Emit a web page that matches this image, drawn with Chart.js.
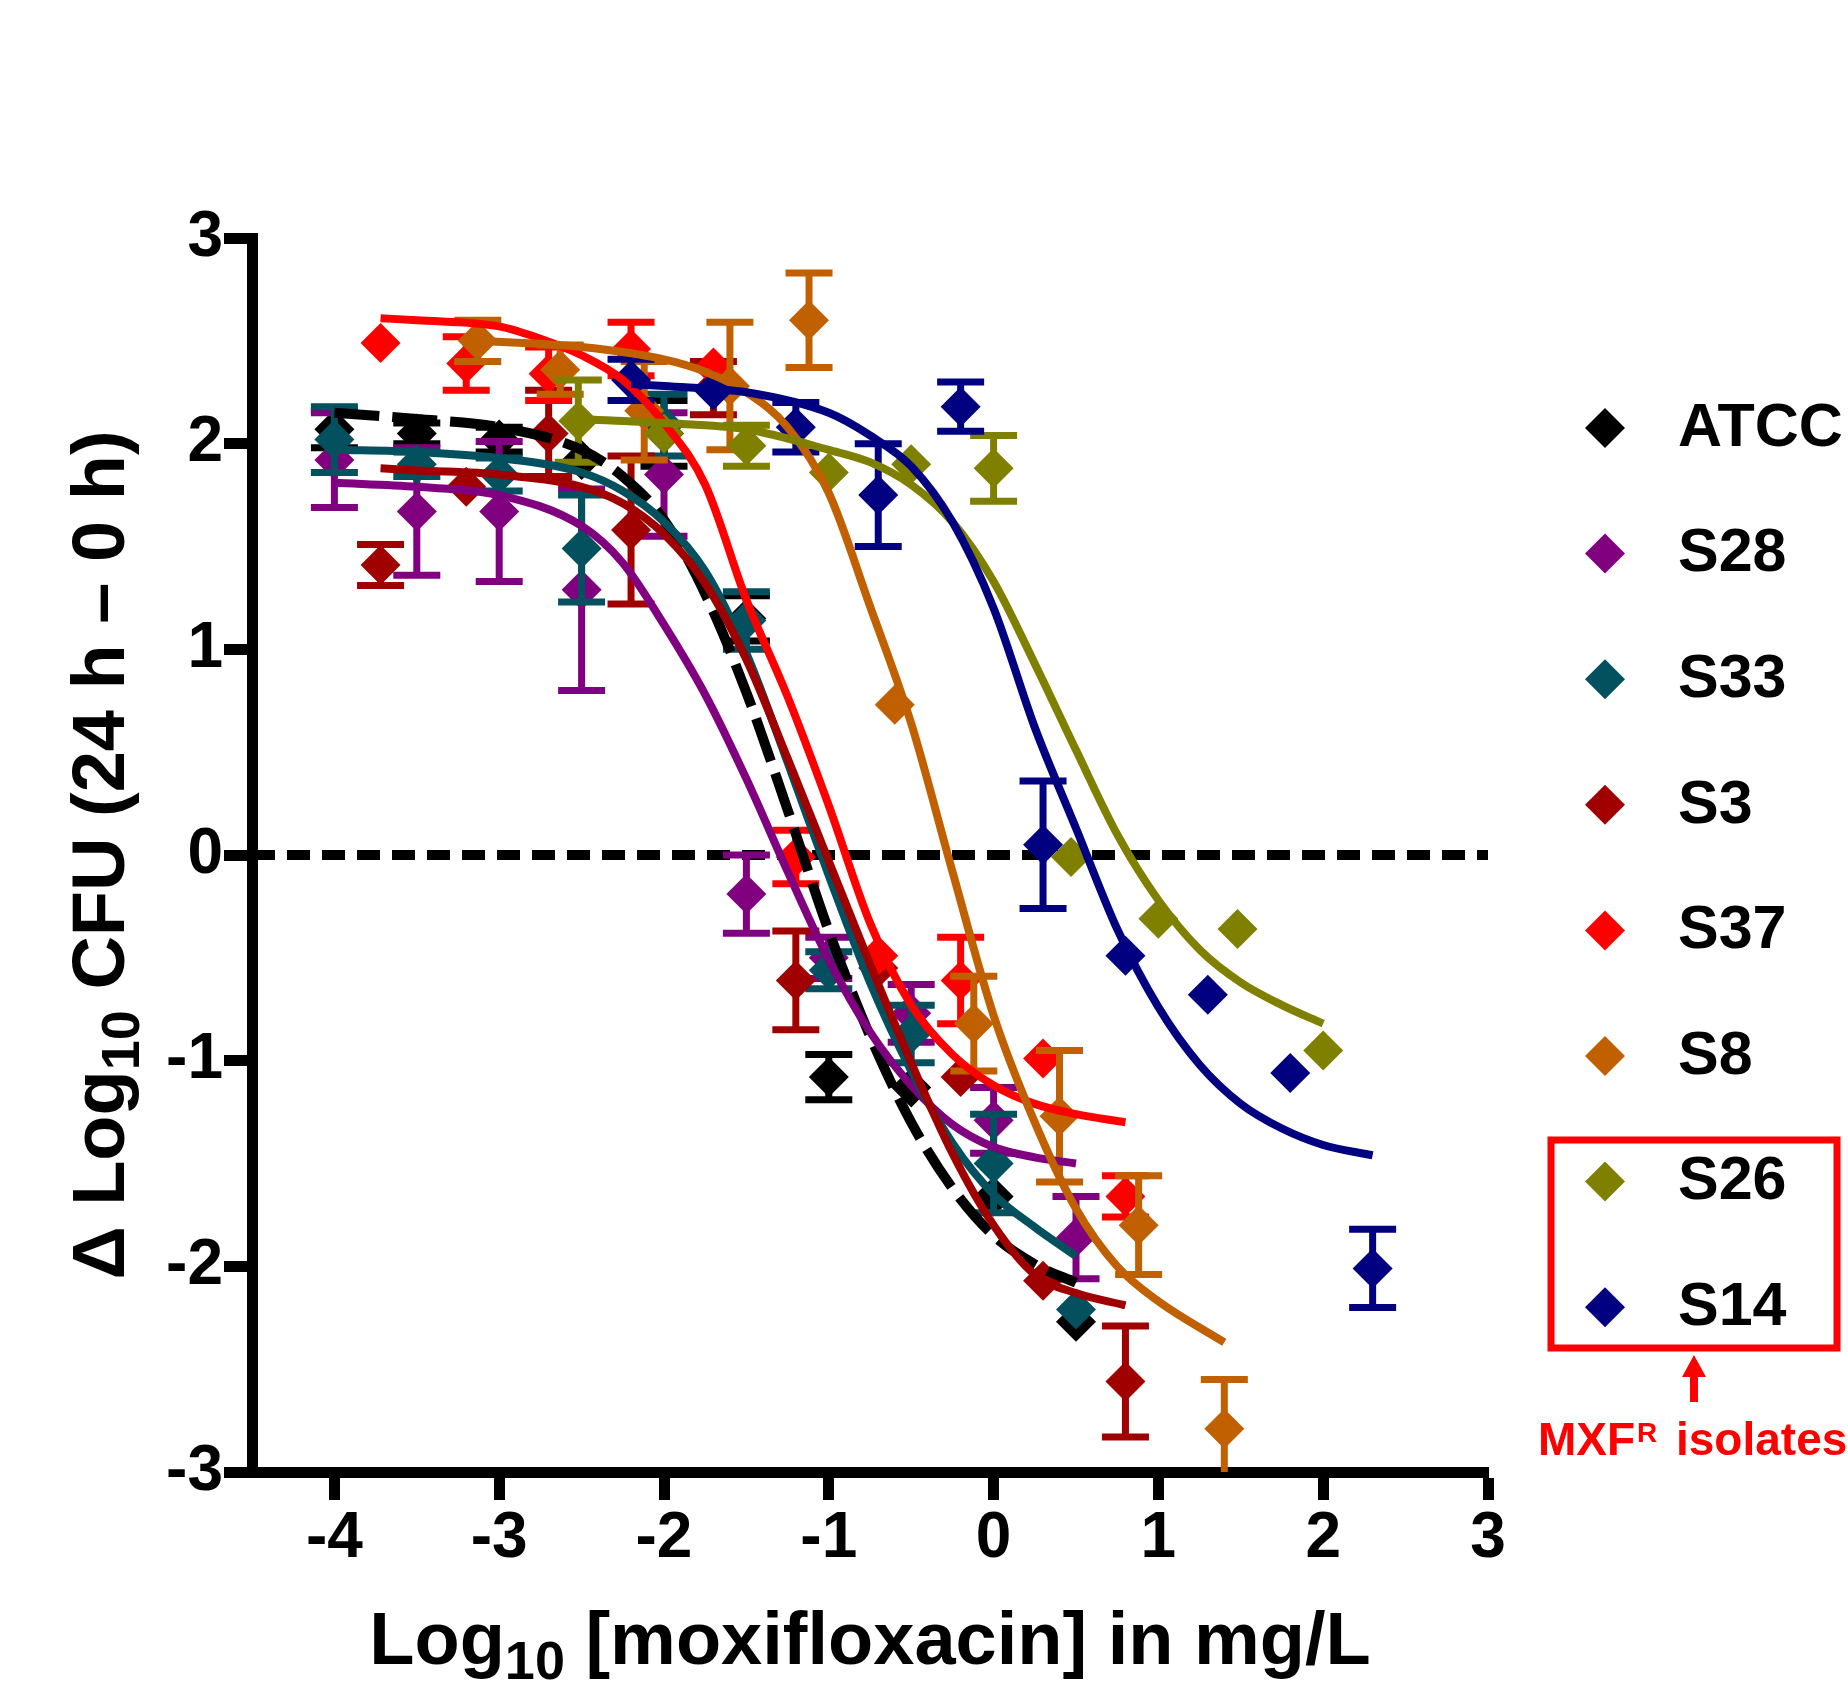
<!DOCTYPE html>
<html>
<head>
<meta charset="utf-8">
<script src="https://cdn.jsdelivr.net/npm/chart.js@4.4.1/dist/chart.umd.min.js"></script>
<style>
  html, body { margin: 0; padding: 0; background: #ffffff; }
  #wrap { width: 1848px; height: 1698px; }
</style>
</head>
<body>
<div id="wrap"><canvas id="chart" width="1848" height="1698"></canvas></div>
<script>
// Axis ticks
const xTickValues = [-4, -3, -2, -1, 0, 1, 2, 3];
const xTickLabels = ['-4', '-3', '-2', '-1', '0', '1', '2', '3'];
const yTickValues = [-3, -2, -1, 0, 1, 2, 3];
const yTickLabels = ['-3', '-2', '-1', '0', '1', '2', '3'];

// Isolates
const seriesNames = ['ATCC', 'S28', 'S33', 'S3', 'S37', 'S8', 'S26', 'S14'];
const seriesColors = ['#000000', '#800080', '#03505F', '#A00000', '#FF0000', '#C06000', '#808000', '#000080'];

// Measured points (mean, error) - log10 mg/L vs delta log10 CFU
const atccX = [-4, -3.5, -3, -2.5, -2, -1.5, -1, -0.5, 0, 0.5];
const atccY = [2.07, 2.05, 2.02, 1.92, 2.05, 1.15, -1.08, -1.13, -1.66, -2.27];
const atccErr = [0.09, 0.05, 0.06, 0, 0.16, 0.11, 0.11, 0, 0, 0];

const s28X = [-4, -3.5, -3, -2.5, -2, -1.5, -1, -0.5, 0, 0.5];
const s28Y = [1.92, 1.67, 1.67, 1.29, 1.85, -0.19, -0.50, -0.77, -1.29, -1.86];
const s28Err = [0.23, 0.31, 0.34, 0.49, 0.30, 0.19, 0.10, 0.14, 0.16, 0.20];

const s33X = [-4, -3.5, -3, -2.5, -2, -1.5, -1, -0.5, 0, 0.5];
const s33Y = [2.02, 1.90, 1.85, 1.49, 2.09, 1.14, -0.56, -0.87, -1.50, -2.21];
const s33Err = [0.16, 0.06, 0.08, 0.26, 0.15, 0.14, 0.09, 0.14, 0.24, 0];

const s3X = [-3.72, -3.2, -2.7, -2.2, -1.7, -1.2, -0.7, -0.2, 0.3, 0.8];
const s3Y = [1.41, 1.79, 2.05, 1.58, 2.27, -0.61, -0.55, -1.08, -2.07, -2.56];
const s3Err = [0.10, 0, 0.21, 0.36, 0.13, 0.24, 0, 0, 0, 0.27];

const s37X = [-3.72, -3.2, -2.7, -2.2, -1.7, -1.2, -0.7, -0.2, 0.3, 0.8];
const s37Y = [2.49, 2.39, 2.34, 2.46, 2.37, -0.01, -0.49, -0.61, -0.99, -1.66];
const s37Err = [0, 0.13, 0.13, 0.13, 0, 0.13, 0, 0.21, 0, 0.10];

const s8X = [-3.13, -2.63, -2.12, -1.6, -1.12, -0.6, -0.12, 0.4, 0.88, 1.4];
const s8Y = [2.50, 2.36, 2.16, 2.28, 2.60, 0.73, -0.82, -1.27, -1.80, -2.79];
const s8Err = [0.10, 0.12, 0.24, 0.31, 0.23, 0, 0.23, 0.32, 0.24, 0.24];

const s26X = [-2.52, -2, -1.5, -1, -0.5, 0, 0.47, 1, 1.48, 2];
const s26Y = [2.11, 2.05, 1.99, 1.86, 1.90, 1.88, -0.01, -0.31, -0.36, -0.95];
const s26Err = [0.20, 0, 0.10, 0, 0, 0.16, 0, 0, 0, 0];

const s14X = [-2.2, -1.7, -1.2, -0.7, -0.2, 0.3, 0.8, 1.3, 1.8, 2.3];
const s14Y = [2.31, 2.26, 2.08, 1.75, 2.18, 0.05, -0.49, -0.68, -1.06, -2.01];
const s14Err = [0.10, 0, 0.12, 0.25, 0.12, 0.31, 0, 0, 0, 0.19];

// Fitted curves
const atccFitX = [-4, -3.5, -3, -2.5, -2.25, -2, -1.75, -1.5, -1.25, -1, -0.75, -0.5, -0.25, 0, 0.25, 0.5];
const atccFitY = [2.15, 2.12, 2.08, 1.97, 1.84, 1.63, 1.27, 0.79, 0.22, -0.37, -0.88, -1.30, -1.62, -1.85, -1.99, -2.08];

const s28FitX = [-4, -3.5, -3, -2.5, -2.25, -2, -1.75, -1.5, -1.25, -1, -0.75, -0.5, -0.25, 0, 0.25, 0.5];
const s28FitY = [1.81, 1.79, 1.75, 1.60, 1.42, 1.12, 0.78, 0.37, -0.08, -0.51, -0.86, -1.12, -1.31, -1.42, -1.47, -1.50];

const s33FitX = [-4, -3.5, -3, -2.5, -2.25, -2, -1.75, -1.5, -1.25, -1, -0.75, -0.5, -0.25, 0, 0.25, 0.5];
const s33FitY = [1.97, 1.96, 1.93, 1.86, 1.77, 1.62, 1.38, 0.98, 0.45, -0.10, -0.62, -1.05, -1.40, -1.65, -1.81, -1.95];

const s3FitX = [-3.72, -3.5, -3, -2.5, -2.25, -2, -1.75, -1.5, -1.25, -1, -0.75, -0.5, -0.25, 0, 0.25, 0.5, 0.8];
const s3FitY = [1.88, 1.87, 1.85, 1.79, 1.71, 1.56, 1.32, 0.95, 0.47, -0.03, -0.53, -1.01, -1.45, -1.80, -2.04, -2.13, -2.19];

const s37FitX = [-3.72, -3.5, -3, -2.75, -2.5, -2.25, -2, -1.75, -1.5, -1.25, -1, -0.75, -0.5, -0.25, 0, 0.25, 0.5, 0.8];
const s37FitY = [2.61, 2.60, 2.57, 2.51, 2.43, 2.31, 2.10, 1.80, 1.24, 0.77, 0.24, -0.33, -0.73, -0.97, -1.12, -1.21, -1.26, -1.30];

const s8FitX = [-3.13, -2.5, -2, -1.75, -1.5, -1.25, -1, -0.75, -0.5, -0.25, 0, 0.25, 0.5, 0.75, 1, 1.4];
const s8FitY = [2.50, 2.47, 2.41, 2.35, 2.25, 2.08, 1.76, 1.21, 0.64, -0.08, -0.78, -1.30, -1.72, -2.00, -2.17, -2.37];

const s26FitX = [-2.52, -2, -1.5, -1, -0.75, -0.5, -0.25, 0, 0.25, 0.5, 0.75, 1, 1.25, 1.5, 1.75, 2];
const s26FitY = [2.12, 2.10, 2.07, 1.97, 1.91, 1.80, 1.62, 1.33, 0.93, 0.51, 0.10, -0.22, -0.46, -0.62, -0.73, -0.82];

const s14FitX = [-2.2, -2, -1.5, -1, -0.75, -0.5, -0.25, 0, 0.25, 0.5, 0.75, 1, 1.25, 1.5, 1.75, 2, 2.3];
const s14FitY = [2.29, 2.28, 2.25, 2.15, 2.04, 1.89, 1.62, 1.20, 0.62, 0.13, -0.36, -0.74, -1.02, -1.21, -1.33, -1.41, -1.46];

// No-growth reference line
const zeroLineX = [-4.5, 3];
const zeroLineY = [0, 0];

const pointX = [atccX, s28X, s33X, s3X, s37X, s8X, s26X, s14X];
const pointY = [atccY, s28Y, s33Y, s3Y, s37Y, s8Y, s26Y, s14Y];
const pointErr = [atccErr, s28Err, s33Err, s3Err, s37Err, s8Err, s26Err, s14Err];
const fitX = [atccFitX, s28FitX, s33FitX, s3FitX, s37FitX, s8FitX, s26FitX, s14FitX];
const fitY = [atccFitY, s28FitY, s33FitY, s3FitY, s37FitY, s8FitY, s26FitY, s14FitY];

const FONT = '"Liberation Sans", Arial, Helvetica, sans-serif';

function toXY(xs, ys) {
    return xs.map((x, i) => ({ x: x, y: ys[i] }));
}

// Build datasets
const datasets = [];
datasets.push({
    label: 'zero',
    data: toXY(zeroLineX, zeroLineY),
    showLine: true,
    borderColor: '#000000',
    borderWidth: 10,
    borderDash: [23, 12],
    pointRadius: 0,
    order: 30
});
seriesNames.forEach((name, i) => {
    datasets.push({
        label: name,
        data: toXY(pointX[i], pointY[i]),
        errors: pointErr[i],
        showLine: false,
        pointStyle: 'rectRot',
        pointRadius: 20,
        pointHoverRadius: 20,
        backgroundColor: seriesColors[i],
        borderColor: seriesColors[i],
        pointBorderWidth: 0,
        order: 20 - i
    });
});
seriesNames.forEach((name, i) => {
    datasets.push({
        label: name + ' fit',
        data: toXY(fitX[i], fitY[i]),
        showLine: true,
        borderColor: seriesColors[i],
        borderWidth: i === 0 ? 10 : 8,
        borderDash: i === 0 ? [45, 13] : [],
        pointRadius: 0,
        cubicInterpolationMode: 'monotone',
        order: 10 - i
    });
});

// Error bars drawn with each point dataset
const errorBarPlugin = {
    id: 'errorBars',
    beforeDatasetDraw(chart, args) {
        const ds = chart.data.datasets[args.index];
        if (!ds.errors) return;
        const c = chart.ctx;
        const xs = chart.scales.x;
        const ys = chart.scales.y;
        const area = chart.chartArea;
        c.save();
        c.beginPath();
        c.rect(area.left, area.top, area.right - area.left, area.bottom - area.top);
        c.clip();
        c.strokeStyle = ds.borderColor;
        c.lineWidth = 7;
        c.lineCap = 'butt';
        ds.data.forEach((p, i) => {
            const e = ds.errors[i];
            if (!e) return;
            const px = xs.getPixelForValue(p.x);
            const top = ys.getPixelForValue(p.y + e);
            const bot = ys.getPixelForValue(p.y - e);
            c.beginPath();
            c.moveTo(px, top);
            c.lineTo(px, bot);
            c.moveTo(px - 23.5, top);
            c.lineTo(px + 23.5, top);
            c.moveTo(px - 23.5, bot);
            c.lineTo(px + 23.5, bot);
            c.stroke();
        });
        c.restore();
    }
};

// Text with a subscript / superscript run
function drawRuns(c, runs, x, y, align) {
    let total = 0;
    runs.forEach(r => {
        c.font = 'bold ' + r.size + 'px ' + FONT;
        r.w = c.measureText(r.text).width;
        total += r.w;
    });
    let cx = align === 'center' ? x - total / 2 : x;
    c.textAlign = 'left';
    c.textBaseline = 'alphabetic';
    runs.forEach(r => {
        c.font = 'bold ' + r.size + 'px ' + FONT;
        c.fillText(r.text, cx, y + (r.dy || 0));
        cx += r.w;
    });
}

// Titles, legend and the MXF-R annotation
const decorPlugin = {
    id: 'decor',
    afterDraw(chart) {
        const c = chart.ctx;
        const area = chart.chartArea;
        c.save();
        c.fillStyle = '#000000';

        // x title
        drawRuns(c, [
            { text: 'Log', size: 74 },
            { text: '10', size: 54, dy: 15 },
            { text: ' [moxifloxacin] in mg/L', size: 74 }
        ], (area.left + area.right) / 2, 1664, 'center');

        // y title
        c.save();
        c.translate(124, (area.top + area.bottom) / 2);
        c.rotate(-Math.PI / 2);
        drawRuns(c, [
            { text: '\u0394 Log', size: 74 },
            { text: '10', size: 54, dy: 15 },
            { text: ' CFU (24 h \u2013 0 h)', size: 74 }
        ], 0, 0, 'center');
        c.restore();

        // legend
        const legendTop = 428;
        const legendStep = 125.6;
        seriesNames.forEach((name, i) => {
            const yy = legendTop + i * legendStep;
            c.fillStyle = seriesColors[i];
            c.beginPath();
            c.moveTo(1605 - 20, yy);
            c.lineTo(1605, yy - 20);
            c.lineTo(1605 + 20, yy);
            c.lineTo(1605, yy + 20);
            c.closePath();
            c.fill();
            c.fillStyle = '#000000';
            c.font = 'bold 61px ' + FONT;
            c.textAlign = 'left';
            c.textBaseline = 'middle';
            c.fillText(name, 1678, yy + 1);
        });

        // red box round the resistant isolates
        c.strokeStyle = '#FF0000';
        c.lineWidth = 7;
        c.strokeRect(1551, 1140, 1837 - 1551, 1348 - 1140);

        // arrow
        c.fillStyle = '#FF0000';
        c.beginPath();
        c.moveTo(1694, 1355);
        c.lineTo(1706, 1377);
        c.lineTo(1682, 1377);
        c.closePath();
        c.fill();
        c.fillRect(1690, 1374, 8, 28);

        // label
        c.textAlign = 'left';
        c.textBaseline = 'alphabetic';
        c.font = 'bold 46px ' + FONT;
        c.fillText('MXF', 1538, 1455);
        const w = c.measureText('MXF').width;
        c.font = 'bold 28px ' + FONT;
        c.fillText('R', 1538 + w + 2, 1442);
        c.font = 'bold 46px ' + FONT;
        c.fillText('isolates', 1676, 1455);

        c.restore();
    }
};

const tickFont = { family: FONT, size: 64, weight: 'bold' };

new Chart(document.getElementById('chart'), {
    type: 'scatter',
    data: { datasets: datasets },
    options: {
        responsive: false,
        animation: false,
        devicePixelRatio: 1,
        layout: { padding: { left: 0, top: 238, right: 360, bottom: 0 } },
        plugins: {
            legend: { display: false },
            tooltip: { enabled: false },
            title: { display: false }
        },
        events: [],
        scales: {
            x: {
                type: 'linear',
                min: -4.5,
                max: 3,
                z: 1,
                afterBuildTicks: (axis) => { axis.ticks = xTickValues.map(v => ({ value: v })); },
                afterFit: (axis) => { axis.height = 226; },
                ticks: {
                    callback: (v, i) => xTickLabels[i],
                    font: tickFont,
                    color: '#000000',
                    padding: 1,
                    autoSkip: false,
                    maxRotation: 0
                },
                grid: {
                    drawOnChartArea: false,
                    drawTicks: true,
                    tickLength: 28,
                    tickWidth: 11,
                    tickColor: '#000000'
                },
                border: { display: true, width: 11, color: '#000000' }
            },
            y: {
                type: 'linear',
                min: -3,
                max: 3,
                z: 1,
                afterBuildTicks: (axis) => { axis.ticks = yTickValues.map(v => ({ value: v })); },
                afterFit: (axis) => { axis.width = 252; },
                ticks: {
                    callback: (v, i) => yTickLabels[i],
                    font: tickFont,
                    color: '#000000',
                    padding: 1,
                    autoSkip: false
                },
                grid: {
                    drawOnChartArea: false,
                    drawTicks: true,
                    tickLength: 28,
                    tickWidth: 11,
                    tickColor: '#000000'
                },
                border: { display: true, width: 11, color: '#000000' }
            }
        }
    },
    plugins: [errorBarPlugin, decorPlugin]
});
</script>
</body>
</html>
